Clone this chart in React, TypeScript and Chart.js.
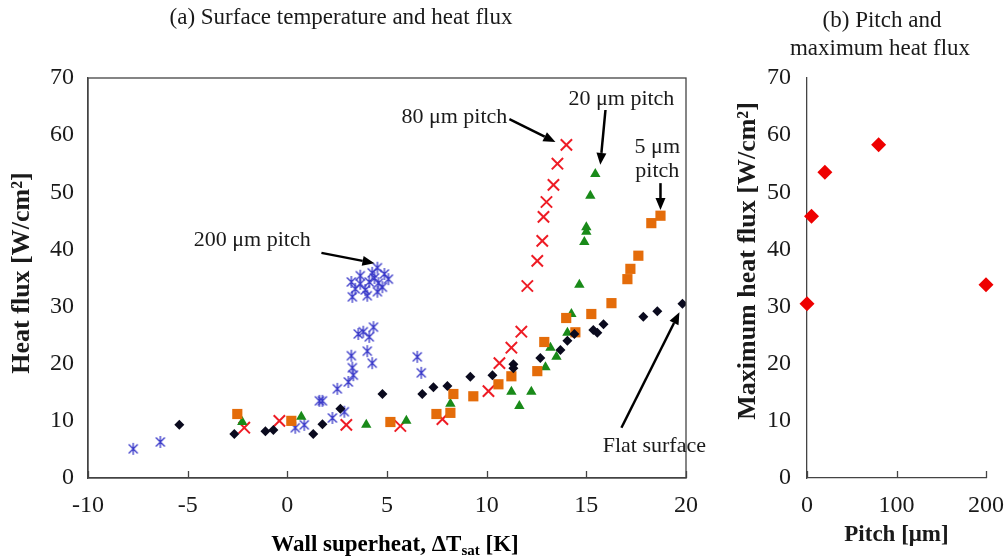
import React, { useEffect, useRef } from "react";
import { Chart, registerables } from "chart.js";
Chart.register(...registerables);

// ---------- data (a) ----------
const flatX = [-5.42, -2.66, -1.1, -0.7, 1.3, 1.76, 2.66, 4.77, 6.77, 7.33, 8.03, 9.18, 10.29, 11.34, 11.34, 12.69, 13.7, 14.05, 14.4, 15.35, 15.55, 15.86, 17.86, 18.56, 19.82];
const flatY = [9.3, 7.7, 8.2, 8.4, 7.7, 9.4, 12.1, 14.7, 14.7, 15.9, 16.1, 17.7, 18.0, 19.9, 19.2, 21.0, 22.4, 24.0, 25.2, 25.9, 25.4, 26.9, 28.2, 29.2, 30.5];

const p5X = [-2.51, 0.2, 5.17, 7.48, 8.18, 8.33, 9.33, 10.59, 11.24, 12.54, 12.89, 13.99, 14.45, 15.25, 16.26, 17.06, 17.21, 17.61, 18.26, 18.72];
const p5Y = [11.2, 10.0, 9.8, 11.2, 11.4, 14.7, 14.3, 16.4, 17.8, 18.7, 23.8, 28.0, 25.5, 28.7, 30.6, 34.8, 36.6, 38.9, 44.6, 45.9];

const p20X = [-2.26, 0.7, 3.96, 5.97, 8.18, 11.24, 11.64, 12.24, 12.95, 13.2, 13.5, 14.05, 14.25, 14.65, 14.9, 15.0, 15.0, 15.2, 15.45];
const p20Y = [9.8, 10.7, 9.3, 10.0, 13.0, 15.1, 12.6, 15.1, 19.4, 22.8, 21.2, 25.4, 28.7, 33.8, 41.3, 43.1, 43.9, 49.4, 53.2];

const p80X = [-2.16, -0.4, 2.96, 5.67, 7.78, 10.09, 10.64, 11.24, 11.74, 12.04, 12.54, 12.79, 12.85, 13.0, 13.35, 13.55, 14.0];
const p80Y = [8.8, 10.0, 9.3, 9.1, 10.3, 15.2, 20.1, 22.8, 25.6, 33.6, 38.0, 41.5, 45.7, 48.3, 51.3, 55.0, 58.3];

const p200X = [-7.73, -6.37, 0.4, 0.85, 1.61, 1.76, 2.26, 2.86, 2.51, 3.06, 3.31, 3.26, 4.26, 3.21, 4.01, 4.11, 3.56, 3.81, 4.32, 6.52, 6.72,
  4.52, 4.87, 5.07, 4.26, 3.66, 3.21, 3.66, 4.11, 4.57, 3.26, 4.01, 4.52, 3.91, 3.41, 4.77, 4.37];
const p200Y = [5.1, 6.3, 8.8, 9.3, 13.5, 13.5, 10.5, 11.6, 15.6, 16.8, 18.0, 19.3, 20.1, 21.4, 22.2, 24.7, 25.2, 25.6, 26.4, 21.2, 18.4,
  36.8, 35.7, 34.8, 35.9, 35.4, 34.3, 34.0, 34.3, 34.1, 31.7, 31.9, 32.6, 32.9, 33.1, 33.4, 35.0];

// ---------- data (b) ----------
const pitchValues = [0, 5, 20, 80, 200];
const maxFlux = [30.5, 45.8, 53.5, 58.3, 33.8];

// ---------- annotations (data units of chart a) ----------
const annText = ["80 μm pitch", "20 μm pitch", "5 μm", "pitch", "200 μm pitch", "Flat surface"];
const annX = [8.38, 16.76, 18.56, 18.56, -1.76, 18.41];
const annY = [63.2, 66.2, 57.8, 53.6, 41.6, 5.6];
const arrowFromX = [11.14, 15.96, 18.72, 1.71, 16.76];
const arrowFromY = [62.8, 64.4, 51.6, 39.4, 8.8];
const arrowToX = [13.45, 15.7, 18.72, 4.37, 19.67];
const arrowToY = [58.8, 54.8, 46.9, 37.6, 29.0];

const SERIF = "'Liberation Serif', 'Times New Roman', serif";
const AXIS = "#444444";
const TEXT = "#1a1a1a";

function pts(xs: number[], ys: number[]) {
  return xs.map((x, i) => ({ x, y: ys[i] }));
}

function makeAsterisk(color: string, size: number) {
  const c = document.createElement("canvas");
  c.width = size;
  c.height = size;
  const ctx = c.getContext("2d")!;
  ctx.strokeStyle = color;
  ctx.lineWidth = 1.3;
  const m = size / 2;
  const r = size / 2 - 1;
  const d = r * 0.75;
  ctx.beginPath();
  ctx.moveTo(m, m - r);
  ctx.lineTo(m, m + r);
  ctx.moveTo(m - d, m - d);
  ctx.lineTo(m + d, m + d);
  ctx.moveTo(m + d, m - d);
  ctx.lineTo(m - d, m + d);
  ctx.stroke();
  return c;
}

function drawArrow(ctx: CanvasRenderingContext2D, x1: number, y1: number, x2: number, y2: number) {
  const ang = Math.atan2(y2 - y1, x2 - x1);
  const hl = 12, hw = 5;
  const bx = x2 - Math.cos(ang) * hl;
  const by = y2 - Math.sin(ang) * hl;
  ctx.beginPath();
  ctx.moveTo(x1, y1);
  ctx.lineTo(bx, by);
  ctx.lineWidth = 2.5;
  ctx.strokeStyle = "#000";
  ctx.stroke();
  ctx.beginPath();
  ctx.moveTo(x2, y2);
  ctx.lineTo(bx + Math.sin(ang) * hw, by - Math.cos(ang) * hw);
  ctx.lineTo(bx - Math.sin(ang) * hw, by + Math.cos(ang) * hw);
  ctx.closePath();
  ctx.fillStyle = "#000";
  ctx.fill();
}

function drawVerticalTitle(ctx: CanvasRenderingContext2D, text: string, x: number, y: number, size: number) {
  ctx.save();
  ctx.translate(x, y);
  ctx.rotate(-Math.PI / 2);
  ctx.font = `bold ${size}px ${SERIF}`;
  ctx.fillStyle = TEXT;
  ctx.textAlign = "center";
  ctx.textBaseline = "middle";
  ctx.fillText(text, 0, 0);
  ctx.restore();
}

const insideTicks = {
  id: "insideTicks",
  afterDatasetsDraw(chart: any) {
    const { ctx, chartArea, scales } = chart;
    const xs = scales.x;
    ctx.save();
    ctx.strokeStyle = AXIS;
    ctx.lineWidth = 1.3;
    xs.ticks.forEach((t: any) => {
      const px = Math.round(xs.getPixelForValue(t.value)) + 0.5;
      ctx.beginPath();
      ctx.moveTo(px, chartArea.bottom);
      ctx.lineTo(px, chartArea.bottom - 7);
      ctx.stroke();
    });
    ctx.restore();
  },
};

const leftDecor = {
  id: "leftDecor",
  afterDraw(chart: any) {
    const { ctx, chartArea, scales } = chart;
    const xs = scales.x, ys = scales.y;
    ctx.save();
    // frame
    ctx.strokeStyle = AXIS;
    ctx.lineWidth = 1.3;
    ctx.strokeRect(chartArea.left, chartArea.top, chartArea.right - chartArea.left, chartArea.bottom - chartArea.top);
    // chart title
    ctx.fillStyle = TEXT;
    ctx.textAlign = "center";
    ctx.textBaseline = "middle";
    ctx.font = `23px ${SERIF}`;
    ctx.fillText("(a) Surface temperature and heat flux", 341, 18);
    // annotations
    ctx.font = `22px ${SERIF}`;
    for (let i = 0; i < annText.length; i++) {
      ctx.fillText(annText[i], xs.getPixelForValue(annX[i]), ys.getPixelForValue(annY[i]));
    }
    for (let i = 0; i < arrowFromX.length; i++) {
      drawArrow(ctx, xs.getPixelForValue(arrowFromX[i]), ys.getPixelForValue(arrowFromY[i]),
        xs.getPixelForValue(arrowToX[i]), ys.getPixelForValue(arrowToY[i]));
    }
    // y axis title
    drawVerticalTitle(ctx, "Heat flux [W/cm²]", 22, 273, 26);
    // x axis title with subscript
    const main1 = "Wall superheat, ΔT";
    const sub = "sat";
    const main2 = " [K]";
    ctx.font = `bold 23px ${SERIF}`;
    const w1 = ctx.measureText(main1).width;
    const w3 = ctx.measureText(main2).width;
    ctx.font = `bold 15px ${SERIF}`;
    const w2 = ctx.measureText(sub).width;
    const total = w1 + w2 + w3;
    const x0 = 395 - total / 2;
    const yb = 551;
    ctx.textAlign = "left";
    ctx.textBaseline = "alphabetic";
    ctx.font = `bold 23px ${SERIF}`;
    ctx.fillText(main1, x0, yb);
    ctx.font = `bold 15px ${SERIF}`;
    ctx.fillText(sub, x0 + w1, yb + 4);
    ctx.font = `bold 23px ${SERIF}`;
    ctx.fillText(main2, x0 + w1 + w2, yb);
    ctx.restore();
  },
};

const rightDecor = {
  id: "rightDecor",
  afterDraw(chart: any) {
    const { ctx } = chart;
    ctx.save();
    ctx.fillStyle = TEXT;
    ctx.textAlign = "center";
    ctx.textBaseline = "middle";
    ctx.font = `23px ${SERIF}`;
    ctx.fillText("(b) Pitch and", 162, 21);
    ctx.fillText("maximum heat flux", 160, 49);
    ctx.restore();
    drawVerticalTitle(ctx, "Maximum heat flux [W/cm²]", 28, 261, 26);
  },
};

const tickFont = { family: SERIF, size: 24 };
const xTitleFont = { family: SERIF, size: 23, weight: "bold" as const };

export default function App() {
  const leftRef = useRef<HTMLCanvasElement>(null);
  const rightRef = useRef<HTMLCanvasElement>(null);

  useEffect(() => {
    const star = makeAsterisk("#3535c8", 14);
    const c1 = new Chart(leftRef.current!, {
      type: "scatter",
      data: {
        datasets: [
          { label: "Flat surface", data: pts(flatX, flatY), pointStyle: "rectRot", pointRadius: 5, backgroundColor: "#0a0a1e", borderColor: "#0a0a1e", borderWidth: 0 },
          { label: "5 μm pitch", data: pts(p5X, p5Y), pointStyle: "rect", pointRadius: 7.2, backgroundColor: "#E46C0A", borderColor: "#E46C0A", borderWidth: 0 },
          { label: "20 μm pitch", data: pts(p20X, p20Y), pointStyle: "triangle", pointRadius: 6, backgroundColor: "#198a19", borderColor: "#198a19", borderWidth: 0 },
          { label: "80 μm pitch", data: pts(p80X, p80Y), pointStyle: "crossRot", pointRadius: 8, backgroundColor: "#ee1c25", borderColor: "#ee1c25", borderWidth: 2 },
          { label: "200 μm pitch", data: pts(p200X, p200Y), pointStyle: star as any, pointRadius: 7, backgroundColor: "#3535c8", borderColor: "#3535c8", borderWidth: 1 },
        ],
      },
      options: {
        responsive: false,
        animation: false,
        events: [],
        layout: { autoPadding: false, padding: { left: 6, top: 78, right: 34, bottom: 0 } },
        plugins: { legend: { display: false }, tooltip: { enabled: false }, title: { display: false } },
        scales: {
          x: {
            type: "linear",
            min: -10,
            max: 20,
            ticks: { stepSize: 5, font: tickFont, color: TEXT, padding: 13, maxRotation: 0 },
            grid: { display: true, drawOnChartArea: false, drawTicks: false },
            border: { display: true, color: AXIS, width: 1.3 },
            afterFit: (s: any) => { s.height = 79; },
          },
          y: {
            type: "linear",
            min: 0,
            max: 70,
            ticks: { stepSize: 10, font: tickFont, color: TEXT, padding: 14 },
            grid: { display: true, drawOnChartArea: false, drawTicks: false },
            border: { display: true, color: AXIS, width: 1.3 },
            afterFit: (s: any) => { s.width = 82; },
          },
        },
      },
      plugins: [insideTicks, leftDecor],
    });

    const c2 = new Chart(rightRef.current!, {
      type: "scatter",
      data: {
        datasets: [
          { label: "Maximum heat flux", data: pts(pitchValues, maxFlux), pointStyle: "rectRot", pointRadius: 7.5, backgroundColor: "#ee0000", borderColor: "#ee0000", borderWidth: 0, clip: false as any },
        ],
      },
      options: {
        responsive: false,
        animation: false,
        events: [],
        layout: { autoPadding: false, padding: { left: 12, top: 78, right: 0, bottom: 0 } },
        plugins: { legend: { display: false }, tooltip: { enabled: false }, title: { display: false } },
        scales: {
          x: {
            type: "linear",
            min: 0,
            max: 200,
            ticks: { stepSize: 100, font: tickFont, color: TEXT, padding: 13, maxRotation: 0 },
            grid: { display: true, drawOnChartArea: false, drawTicks: false },
            border: { display: true, color: AXIS, width: 1.3 },
            title: { display: true, text: "Pitch [μm]", font: xTitleFont, color: TEXT, padding: { top: 0, bottom: 8 } },
            afterFit: (s: any) => { s.height = 79; },
          },
          y: {
            type: "linear",
            min: 0,
            max: 70,
            ticks: { stepSize: 10, font: tickFont, color: TEXT, padding: 16 },
            grid: { display: true, drawOnChartArea: false, drawTicks: false },
            border: { display: true, color: AXIS, width: 1.3 },
            afterFit: (s: any) => { s.width = 75; },
          },
        },
      },
      plugins: [insideTicks, rightDecor],
    });

    return () => {
      c1.destroy();
      c2.destroy();
    };
  }, []);

  return (
    <div style={{ position: "fixed", left: 0, top: 0, width: 1006, height: 557, background: "#fff", overflow: "hidden" }}>
      <canvas ref={leftRef} width={720} height={557} style={{ position: "absolute", left: 0, top: 0, width: 720, height: 557 }} />
      <canvas ref={rightRef} width={297} height={557} style={{ position: "absolute", left: 720, top: 0, width: 297, height: 557 }} />
    </div>
  );
}
